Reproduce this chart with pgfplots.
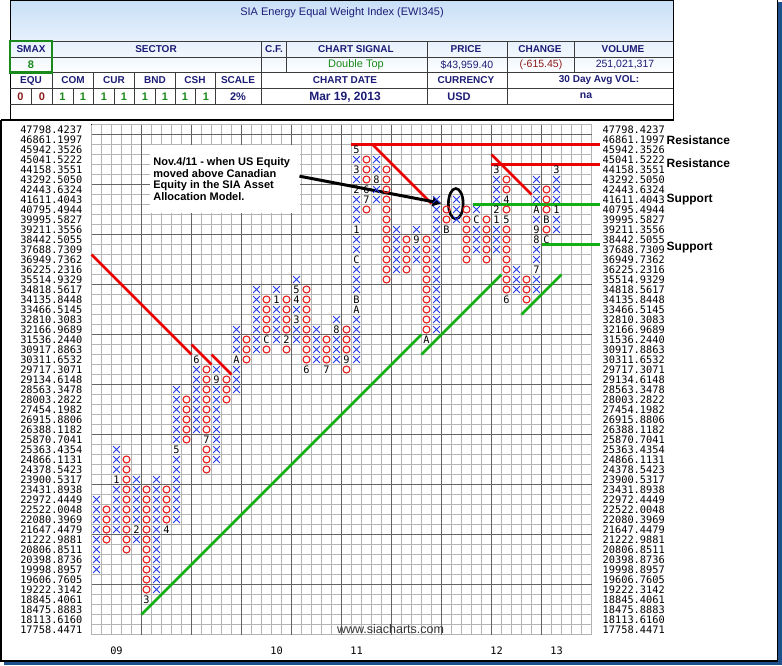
\documentclass[border=0pt]{standalone}
\usepackage{pgfplots}
\pgfplotsset{compat=1.18}
\usepackage{fontspec}
\setmainfont{Liberation Sans}
\newfontfamily\monofont{DejaVu Sans Mono}
\usetikzlibrary{arrows.meta}
\definecolor{navy}{RGB}{28,28,118}
\definecolor{sgreen}{RGB}{26,138,26}
\definecolor{dred}{RGB}{140,24,24}
\definecolor{hdrblue}{RGB}{200,223,247}
\definecolor{shadowblue}{RGB}{30,80,140}
\definecolor{xblue}{RGB}{30,55,235}
\definecolor{ored}{RGB}{232,28,28}
\definecolor{tred}{RGB}{235,0,0}
\definecolor{tgreen}{RGB}{20,175,20}
\definecolor{tabline}{RGB}{60,60,60}
\definecolor{gminor}{RGB}{180,180,180}
\definecolor{gmajor}{RGB}{100,100,100}
\newcommand{\mono}{\monofont\fontsize{10.3}{10}\selectfont}
\newcommand{\hlab}{\bfseries\fontsize{10}{12}\selectfont}
\pgfplotsset{pfgeom/.style={at={(91.5pt,-634.5pt)}, anchor=south west,
  x=10pt, y=10pt, xmin=-0.5, xmax=49.5, ymin=-0.5, ymax=50.5}}
\def\pricelabels{17758.4471,18113.6160,18475.8883,18845.4061,19222.3142,19606.7605,19998.8957,20398.8736,20806.8511,21222.9881,21647.4479,22080.3969,22522.0048,22972.4449,23431.8938,23900.5317,24378.5423,24866.1131,25363.4354,25870.7041,26388.1182,26915.8806,27454.1982,28003.2822,28563.3478,29134.6148,29717.3071,30311.6532,30917.8863,31536.2440,32166.9689,32810.3083,33466.5145,34135.8448,34818.5617,35514.9329,36225.2316,36949.7362,37688.7309,38442.5055,39211.3556,39995.5827,40795.4944,41611.4043,42443.6324,43292.5050,44158.3551,45041.5222,45942.3526,46861.1997,47798.4237}
\begin{document}
\begin{tikzpicture}
\useasboundingbox (0,0) rectangle (782pt,-665pt);
\fill[shadowblue] (4pt,-661pt) rectangle (782pt,-665pt);
\fill[shadowblue] (777.5pt,-2pt) rectangle (782pt,-665pt);
\begin{scope}[x=1pt,y=-1pt]
\fill[white] (1,0) rectangle (777.5,661);
\shade[top color=hdrblue, bottom color=white] (10,0) rectangle (673,75);
\draw[line width=1pt] (10,0) rectangle (673,120);
\draw[line width=1.5pt] (1,120) -- (1,661) -- (777.5,661) -- (777.5,0);
\draw[line width=1.2pt] (1,120) -- (673,120);
\draw[tabline, line width=0.9pt] (10,41) -- (673,41);
\draw[tabline, line width=0.9pt] (10,57) -- (673,57);
\draw[tabline, line width=0.9pt] (10,72.5) -- (673,72.5);
\draw[tabline, line width=0.9pt] (10,88.5) -- (673,88.5);
\draw[tabline, line width=0.9pt] (10,104.5) -- (673,104.5);
\foreach \xx in {52,261,286,427.5,507.5,574} \draw[tabline, line width=0.9pt] (\xx,41) -- (\xx,72.5);
\foreach \xx in {52,93,134,175,215,261,427.5,507.5} \draw[tabline, line width=0.9pt] (\xx,72.5) -- (\xx,104.5);
\foreach \xx in {31,73,114,155,195} \draw[tabline, line width=0.9pt] (\xx,88.5) -- (\xx,104.5);
\draw[sgreen, line width=2.5pt] (10,41) rectangle (52,72.5);
\node[text=navy, font=\fontsize{11}{13}\selectfont] at (342,13) {SIA Energy Equal Weight Index (EWI345)};
\node[text=navy, font=\hlab] at (31,49) {SMAX};
\node[text=navy, font=\hlab] at (156,49) {SECTOR};
\node[text=navy, font=\hlab] at (274,49) {C.F.};
\node[text=navy, font=\hlab] at (356,49) {CHART SIGNAL};
\node[text=navy, font=\hlab] at (466,49) {PRICE};
\node[text=navy, font=\hlab] at (540,49) {CHANGE};
\node[text=navy, font=\hlab] at (623,49) {VOLUME};
\node[text=sgreen, font=\bfseries\fontsize{11}{13}\selectfont] at (31,65) {8};
\node[text=sgreen, font=\fontsize{11}{13}\selectfont] at (356,65) {Double Top};
\node[text=navy, font=\fontsize{10.5}{13}\selectfont] at (467,65.5) {\$43,959.40};
\node[text=dred, font=\fontsize{10.5}{13}\selectfont] at (541,65) {(-615.45)};
\node[text=navy, font=\fontsize{10.5}{13}\selectfont] at (625,65) {251,021,317};
\node[text=navy, font=\hlab] at (31,80.5) {EQU};
\node[text=navy, font=\hlab] at (73,80.5) {COM};
\node[text=navy, font=\hlab] at (114,80.5) {CUR};
\node[text=navy, font=\hlab] at (155,80.5) {BND};
\node[text=navy, font=\hlab] at (195,80.5) {CSH};
\node[text=navy, font=\hlab] at (238,80.5) {SCALE};
\node[text=navy, font=\hlab] at (345,80.5) {CHART DATE};
\node[text=navy, font=\hlab] at (466,80.5) {CURRENCY};
\node[text=navy, font=\hlab] at (599,80.5) {30 Day Avg VOL:};
\node[text=dred, font=\bfseries\fontsize{11}{13}\selectfont] at (20.5,97) {0};
\node[text=dred, font=\bfseries\fontsize{11}{13}\selectfont] at (42,97) {0};
\foreach \xx in {62.5,83,104,124,145,165,185,206} \node[text=sgreen, font=\bfseries\fontsize{11}{13}\selectfont] at (\xx,97) {1};
\node[text=navy, font=\bfseries\fontsize{11}{13}\selectfont] at (238,97) {2\%};
\node[text=navy, font=\bfseries\fontsize{12}{14}\selectfont] at (345,97) {Mar 19, 2013};
\node[text=navy, font=\bfseries\fontsize{11}{13}\selectfont] at (459,97) {USD};
\node[text=navy, font=\bfseries\fontsize{10.5}{13}\selectfont] at (586,96) {na};
\end{scope}

\begin{axis}[pfgeom,
  axis line style={draw=none},
  xtick={2,18,26,40,46}, xticklabels={09,10,11,12,13},
  xticklabel style={anchor=center, yshift=-16pt, font=\mono, text=black},
  ytick={0,1,...,50}, yticklabels/.expand once={\pricelabels},
  yticklabel style={inner sep=0pt, anchor=east, xshift=-9pt, font=\mono, text=black},
  major tick length=0pt,
]
\end{axis}
\begin{axis}[pfgeom,
  axis line style={draw=none},
  xtick=\empty,
  ytick={0,1,...,50}, yticklabels/.expand once={\pricelabels},
  yticklabel pos=right,
  major tick length=0pt,
  yticklabel style={inner sep=0pt, anchor=west, xshift=11pt, font=\mono, text=black},
]
\end{axis}

\begin{axis}[pfgeom,
  axis line style={black, line width=1.3pt},
  xtick=\empty, ytick=\empty,
  clip=false,
]
\pgfplotsinvokeforeach{-0.5,0.5,...,49.5}{\draw[gminor, line width=1pt] (axis cs:#1,-0.5) -- (axis cs:#1,50.5);}
\pgfplotsinvokeforeach{-0.5,0.5,...,50.5}{\draw[gminor, line width=1pt] (axis cs:-0.5,#1) -- (axis cs:49.5,#1);}
\pgfplotsinvokeforeach{4.5,9.5,...,44.5}{\draw[gmajor, line width=1.2pt] (axis cs:#1,-0.5) -- (axis cs:#1,50.5);}
\pgfplotsinvokeforeach{4.5,9.5,...,49.5}{\draw[gmajor, line width=1.2pt] (axis cs:-0.5,#1) -- (axis cs:49.5,#1);}
\fill[white] (axis cs:5.3,48.5) rectangle (axis cs:20.3,41.7);
\addplot[tred, line width=2.6pt] coordinates {(-0.5,37.5) (9.5,27.5)};
\addplot[tred, line width=2.6pt] coordinates {(9.5,28.5) (11.5,26.5)};
\addplot[tred, line width=2.6pt] coordinates {(11.5,27.5) (13.5,25.5)};
\addplot[tred, line width=2.6pt] coordinates {(25.4,48.5) (50.3,48.5)};
\addplot[tred, line width=2.6pt] coordinates {(27.6,48.5) (33.5,42.6)};
\addplot[tred, line width=2.6pt] coordinates {(39.4,46.5) (50.3,46.5)};
\addplot[tred, line width=2.6pt] coordinates {(39.5,47.5) (43.5,43.5)};
\addplot[tgreen, line width=2.6pt] coordinates {(4.5,1.5) (32.5,29.5)};
\addplot[tgreen, line width=2.6pt] coordinates {(32.5,27.5) (40.5,35.5)};
\addplot[tgreen, line width=2.6pt] coordinates {(42.5,31.5) (46.5,35.5)};
\addplot[tgreen, line width=2.6pt] coordinates {(37.6,42.5) (50.3,42.5)};
\addplot[tgreen, line width=2.6pt] coordinates {(44.5,38.5) (50.3,38.5)};
\addplot[only marks, mark=x, mark size=4.8pt, xblue, mark options={line width=1pt}] coordinates {
(0,6)(0,7)(0,8)(0,9)(0,10)(0,11)(0,12)(0,13)
(2,10)(2,11)(2,12)(2,13)(2,14)(2,16)(2,17)(2,18)
(4,9)(4,11)(4,12)(4,13)(4,14)(4,15)
(6,4)(6,5)(6,6)(6,7)(6,8)(6,9)(6,10)(6,11)(6,12)(6,13)(6,14)(6,15)
(8,11)(8,12)(8,13)(8,14)(8,15)(8,16)(8,17)(8,19)(8,20)(8,21)(8,22)(8,23)(8,24)
(10,20)(10,21)(10,22)(10,23)(10,24)(10,25)(10,26)
(12,17)(12,18)(12,19)(12,20)(12,21)(12,22)(12,23)(12,24)(12,26)
(14,24)(14,25)(14,26)(14,28)(14,29)(14,30)
(16,28)(16,29)(16,30)(16,31)(16,32)(16,33)(16,34)
(18,29)(18,30)(18,31)(18,32)(18,34)
(20,29)(20,30)(20,32)(20,35)
(22,27)(22,28)(22,29)(22,30)
(24,27)(24,28)(24,29)(24,31)
(26,27)(26,28)(26,29)(26,30)(26,31)(26,34)(26,35)(26,36)(26,38)(26,39)(26,41)(26,42)(26,43)(26,45)(26,47)
(28,43)(28,44)(28,46)(28,47)
(30,36)(30,37)(30,38)(30,39)(30,40)
(32,37)(32,38)(32,40)
(34,30)(34,31)(34,32)(34,33)(34,34)(34,35)(34,36)(34,37)(34,38)(34,39)(34,40)(34,41)(34,42)(34,43)
(36,41)(36,42)(36,43)
(38,38)(38,39)(38,40)(38,42)
(40,38)(40,39)(40,40)(40,43)(40,44)(40,45)
(42,34)(42,35)(42,36)
(44,34)(44,35)(44,37)(44,38)(44,41)(44,43)(44,44)(44,45)
(46,40)(46,41)(46,43)(46,44)(46,45)
};
\addplot[only marks, mark=o, mark size=3.5pt, ored, mark options={line width=1.1pt}] coordinates {
(1,9)(1,10)(1,11)(1,12)
(3,8)(3,9)(3,10)(3,11)(3,12)(3,13)(3,14)(3,15)(3,16)(3,17)
(5,4)(5,5)(5,6)(5,7)(5,8)(5,9)(5,10)(5,11)(5,12)(5,13)(5,14)
(7,11)(7,12)(7,13)(7,14)
(9,19)(9,20)(9,21)(9,22)(9,23)
(11,16)(11,17)(11,18)(11,20)(11,21)(11,22)(11,23)(11,24)(11,25)(11,26)
(13,23)(13,24)(13,25)
(15,27)(15,28)(15,29)
(17,28)(17,30)(17,31)(17,32)(17,33)
(19,28)(19,30)(19,31)(19,32)(19,33)
(21,27)(21,28)(21,29)(21,30)(21,31)(21,32)(21,33)(21,34)
(23,27)(23,28)(23,29)
(25,26)(25,28)(25,29)(25,30)
(27,42)(27,45)(27,46)(27,47)
(29,35)(29,36)(29,37)(29,38)(29,39)(29,40)(29,41)(29,42)(29,43)(29,44)(29,45)(29,46)
(31,36)(31,37)(31,38)(31,39)
(33,30)(33,31)(33,32)(33,33)(33,34)(33,35)(33,36)(33,37)(33,38)(33,39)
(35,41)(35,42)
(37,37)(37,38)(37,39)(37,40)(37,41)(37,42)
(39,37)(39,38)(39,39)(39,40)(39,41)
(41,34)(41,35)(41,36)(41,37)(41,38)(41,39)(41,40)(41,42)(41,44)(41,45)
(43,33)(43,34)(43,35)
(45,40)(45,42)(45,43)(45,44)
};
\addplot[draw=none, mark=none, nodes near coords, point meta=explicit symbolic,
  nodes near coords style={anchor=center, inner sep=0pt, font=\mono, text=black}]
  table[meta=lab] {
x y lab
2 15 1
4 10 2
5 3 3
7 10 4
8 18 5
10 27 6
11 19 7
12 25 9
14 27 A
17 29 C
18 33 1
19 29 2
20 31 3
20 33 4
20 34 5
21 26 6
23 26 7
24 30 8
25 27 9
26 32 A
26 33 B
26 37 C
26 40 1
26 44 2
26 46 3
26 48 5
27 44 6
27 43 7
28 45 8
32 39 9
33 29 A
35 40 B
38 41 C
40 41 1
40 42 2
40 46 3
41 43 4
41 41 5
41 33 6
44 36 7
44 39 8
44 40 9
44 42 A
45 41 B
45 39 C
46 42 1
46 46 3
};
\node[anchor=base west, inner sep=0pt, font=\bfseries\fontsize{11}{12}\selectfont] at (axis cs:5.67,46.37) {Nov.4/11 - when US Equity};
\node[anchor=base west, inner sep=0pt, font=\bfseries\fontsize{11}{12}\selectfont] at (axis cs:5.67,45.23) {moved above Canadian};
\node[anchor=base west, inner sep=0pt, font=\bfseries\fontsize{11}{12}\selectfont] at (axis cs:5.67,44.10) {Equity in the SIA Asset};
\node[anchor=base west, inner sep=0pt, font=\bfseries\fontsize{11}{12}\selectfont] at (axis cs:5.67,42.93) {Allocation Model.};
\draw[black, line width=3pt, -{Triangle[length=9pt,width=9pt]}] (axis cs:20.3,45.33) -- (axis cs:34.5,42.62);
\draw[black, line width=2.6pt] (axis cs:35.93,42.58) ellipse [x radius=7.4pt, y radius=15.2pt];
\node[anchor=west, inner sep=0pt, font=\bfseries\fontsize{12}{14}\selectfont] at (axis cs:57,48.9) {Resistance};
\node[anchor=west, inner sep=0pt, font=\bfseries\fontsize{12}{14}\selectfont] at (axis cs:57,46.6) {Resistance};
\node[anchor=west, inner sep=0pt, font=\bfseries\fontsize{12}{14}\selectfont] at (axis cs:57,42.95) {Support};
\node[anchor=west, inner sep=0pt, font=\bfseries\fontsize{12}{14}\selectfont] at (axis cs:57,38.2) {Support};
\node[anchor=center, inner sep=0pt, text=black!80, font=\fontsize{12.5}{14}\selectfont] at (axis cs:29.4,0.05) {www.siacharts.com};
\end{axis}
\end{tikzpicture}
\end{document}
